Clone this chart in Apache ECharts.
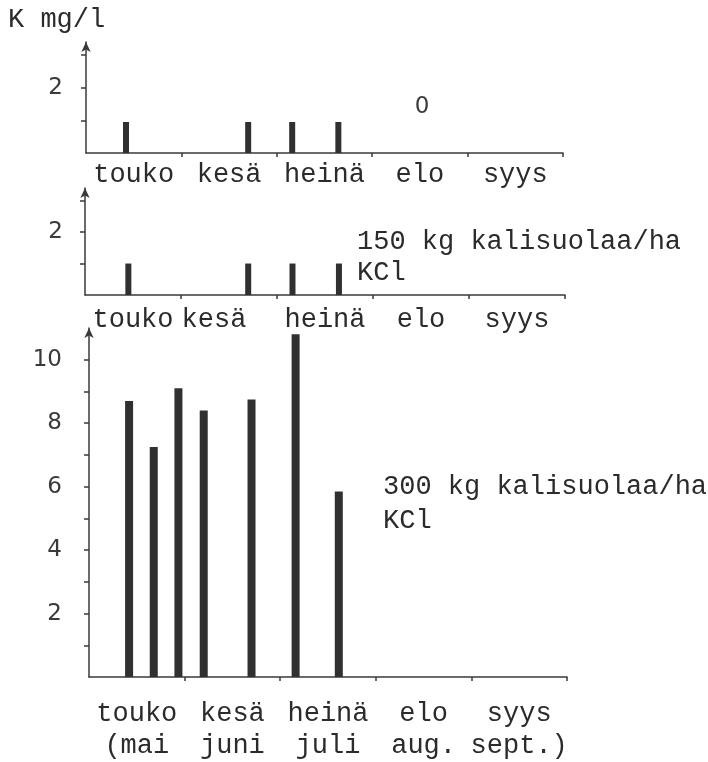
<!DOCTYPE html>
<html>
<head>
<meta charset="utf-8">
<script src="https://cdn.jsdelivr.net/npm/echarts@6/dist/echarts.min.js"></script>
<style>
html,body{margin:0;padding:0;background:#fff;}
#chart{width:708px;height:762px;}
</style>
</head>
<body>
<div id="chart"></div>
<script>
// ---- data ----
const monthLabels = ['touko', 'kesä', 'heinä', 'elo', 'syys'];
const monthLabelsSv = ['(mai', 'juni', 'juli', 'aug.', 'sept.)'];
const daysInMonth = [31, 30, 31, 31, 30]; // May..Sept
const firstMonth = 5;

const dates0 = ['05-13', '06-21', '07-05', '07-20'];
const values0 = [0.95, 0.95, 0.95, 0.95];

const dates150 = ['05-14', '06-21', '07-05', '07-20'];
const values150 = [1.0, 1.0, 1.0, 1.0];

const dates300 = ['05-13', '05-21', '05-29', '06-06', '06-21', '07-05', '07-19'];
const values300 = [8.7, 7.25, 9.1, 8.4, 8.75, 10.8, 5.85];

const smallTicks = [1, 2, 3];
const smallTickLabels = [2];
const bigTicks = [1, 2, 3, 4, 5, 6, 7, 8, 9, 10];
const bigTickLabels = [2, 4, 6, 8, 10];

const yTitle = 'K mg/l';
const note0 = '0';
const note150 = ['150 kg kalisuolaa/ha', 'KCl'];
const note300 = ['300 kg kalisuolaa/ha', 'KCl'];

// ---- helpers ----
function monthPos(s) {
  const [m, d] = s.split('-').map(Number);
  const i = m - firstMonth;
  return i + d / daysInMonth[i];
}
function pairs(dates, vals) {
  return dates.map((d, i) => [monthPos(d), vals[i]]);
}

const ink = '#2b2b2b';
const mono = '"Liberation Mono", "DejaVu Sans Mono", monospace';
const digitFont = '"DejaVu Sans", sans-serif';
const lineStyle = { color: '#3a3a3a', width: 1.5 };
const fs = 27;

const monthTicks = [1, 2, 3, 4, 5];
const monthMids = monthLabels.map((_, i) => i + 0.5);

function xAxis(gridIndex, margin, twoLines, shiftKesa) {
  return {
    type: 'value', gridIndex, min: 0, max: 5,
    splitLine: { show: false },
    axisLine: { lineStyle },
    axisTick: { show: true, length: 4, customValues: monthTicks, lineStyle },
    axisLabel: {
      show: true, customValues: monthMids, margin,
      color: ink, fontFamily: mono, fontSize: fs, lineHeight: twoLines ? 32 : 26,
      formatter: function (v) {
        const i = Math.round(v - 0.5);
        if (twoLines) return monthLabels[i] + '\n' + monthLabelsSv[i];
        if (shiftKesa && i === 1) return '{s|' + monthLabels[i] + '}';
        return monthLabels[i];
      },
      rich: { s: { fontFamily: mono, fontSize: fs, color: ink, padding: [0, 30, 0, 0] } }
    }
  };
}
function yAxis(gridIndex, max, ticks, labels, margin) {
  return {
    type: 'value', gridIndex, min: 0, max,
    splitLine: { show: false },
    axisLine: { show: true, lineStyle, symbol: ['none', 'arrow'], symbolSize: [7, 10] },
    axisTick: { show: true, length: 5, customValues: ticks, lineStyle },
    axisLabel: {
      show: true, customValues: labels, margin,
      color: '#3a3a3a', fontFamily: digitFont, fontSize: 23
    }
  };
}
function bars(idx, data, w) {
  return {
    type: 'bar', xAxisIndex: idx, yAxisIndex: idx, data, barWidth: w,
    itemStyle: { color: '#303030' }, silent: true, animation: false
  };
}

const chart = echarts.init(document.getElementById('chart'), null, { renderer: 'canvas' });
chart.setOption({
  backgroundColor: '#ffffff',
  animation: false,
  grid: [
    { left: 86, width: 477, top: 42, height: 111 },
    { left: 85, width: 480, top: 188, height: 107 },
    { left: 89, width: 478, top: 328, height: 349 }
  ],
  xAxis: [xAxis(0, 9, false, false), xAxis(1, 12, false, true), xAxis(2, 21, true, false)],
  yAxis: [
    yAxis(0, 3.4, smallTicks, smallTickLabels, 23),
    yAxis(1, 3.4, smallTicks, smallTickLabels, 22),
    yAxis(2, 11, bigTicks, bigTickLabels, 27)
  ],
  series: [
    bars(0, pairs(dates0, values0), 6),
    bars(1, pairs(dates150, values150), 6),
    bars(2, pairs(dates300, values300), 8)
  ],
  graphic: [
    { type: 'text', left: 8, top: 6, style: { text: yTitle, font: fs + 'px ' + mono, fill: ink } },
    { type: 'text', x: 422, y: 107, style: { text: note0, font: '23px ' + digitFont, fill: '#3a3a3a', align: 'center', verticalAlign: 'middle' } },
    { type: 'text', x: 357, y: 242, style: { text: note150[0], font: fs + 'px ' + mono, fill: ink, verticalAlign: 'middle' } },
    { type: 'text', x: 357, y: 273, style: { text: note150[1], font: fs + 'px ' + mono, fill: ink, verticalAlign: 'middle' } },
    { type: 'text', x: 383, y: 487, style: { text: note300[0], font: fs + 'px ' + mono, fill: ink, verticalAlign: 'middle' } },
    { type: 'text', x: 383, y: 521, style: { text: note300[1], font: fs + 'px ' + mono, fill: ink, verticalAlign: 'middle' } }
  ]
});
</script>
</body>
</html>
